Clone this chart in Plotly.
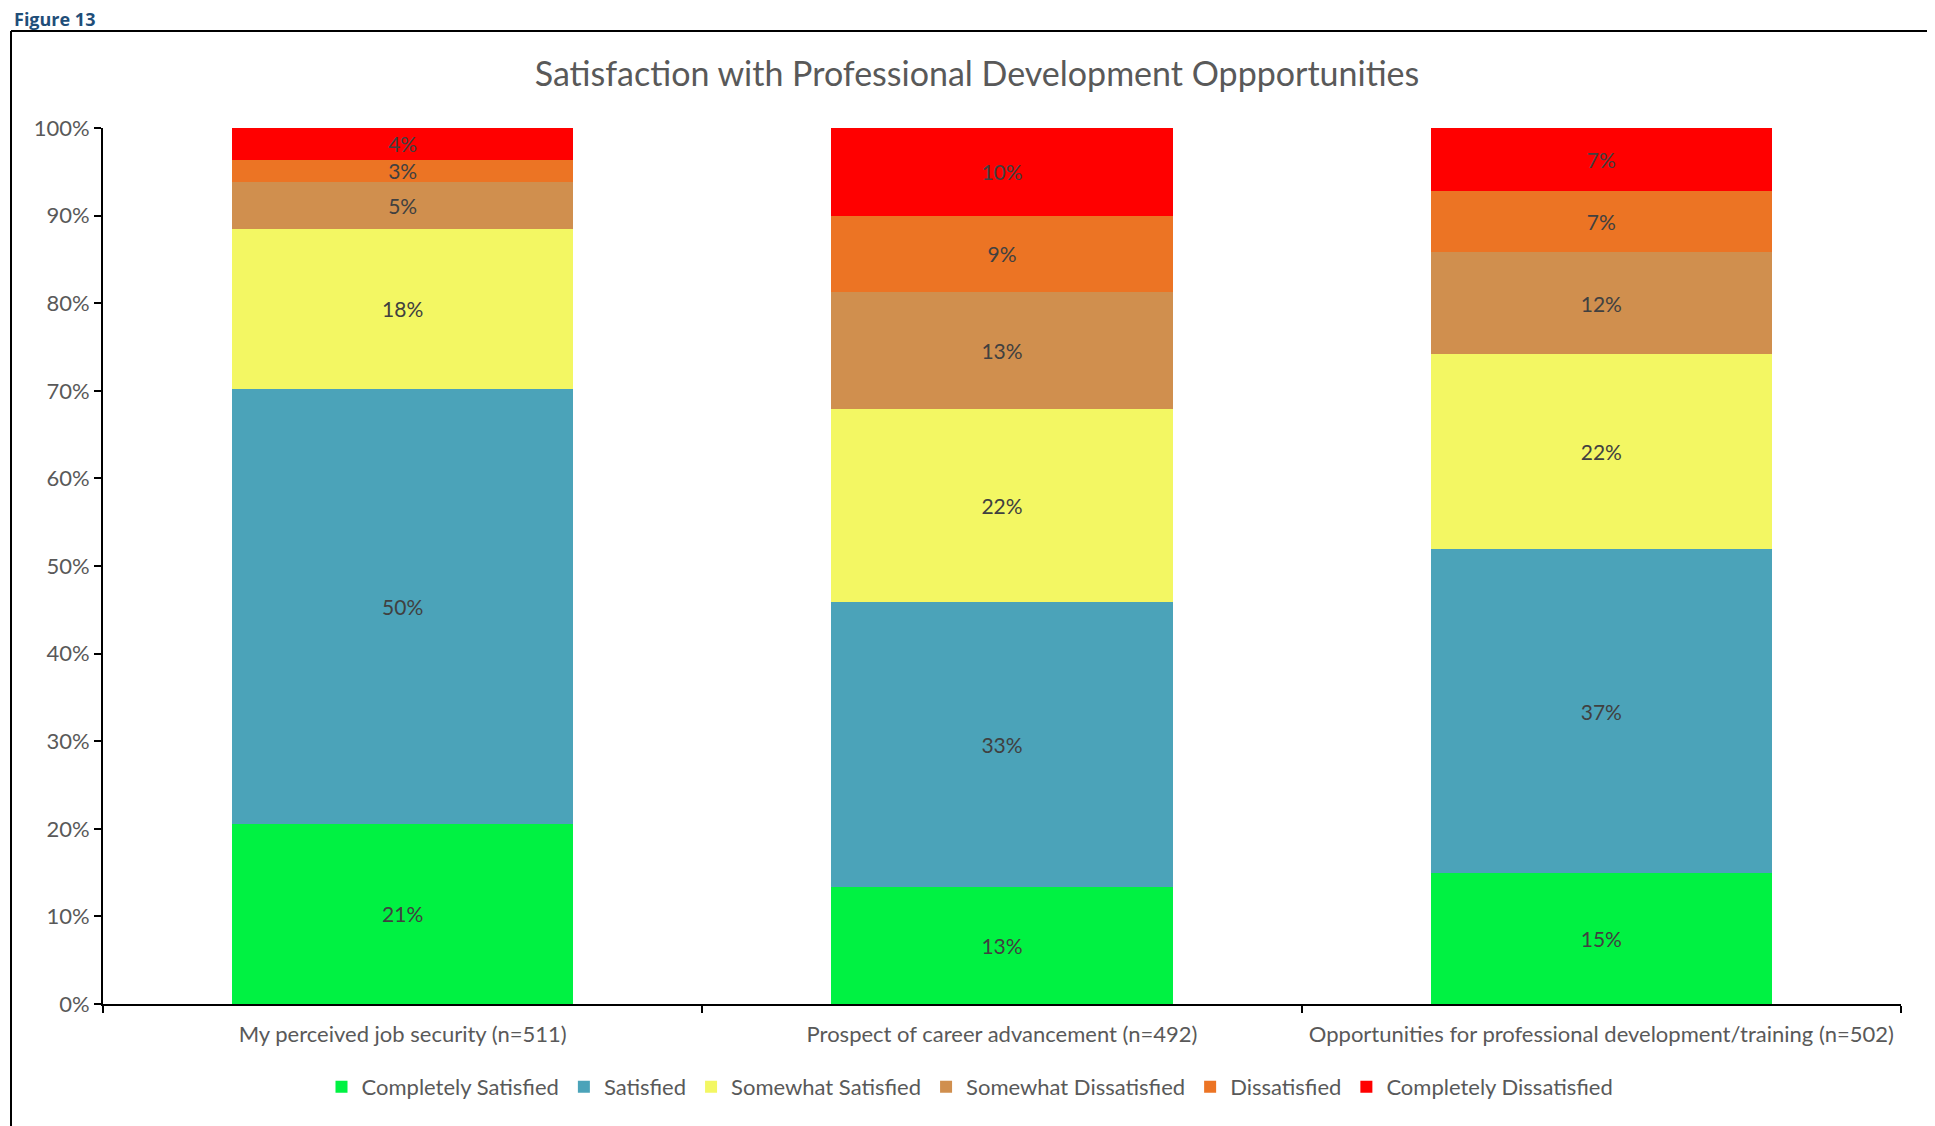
import plotly.graph_objects as go

categories = ["My perceived job security (n=511)",
              "Prospect of career advancement (n=492)",
              "Opportunities for professional development/training (n=502)"]
series_names = ["Completely Satisfied", "Satisfied", "Somewhat Satisfied",
                "Somewhat Dissatisfied", "Dissatisfied", "Completely Dissatisfied"]
completely_satisfied = [20.6, 13.3, 14.9]
satisfied = [49.6, 32.6, 37.0]
somewhat_satisfied = [18.3, 22.0, 22.3]
somewhat_dissatisfied = [5.3, 13.4, 11.6]
dissatisfied = [2.6, 8.7, 7.0]
completely_dissatisfied = [3.6, 10.0, 7.2]
colors = ["#00F242", "#4BA3B9", "#F3F763", "#D08F4E", "#EC7424", "#FF0000"]
y_ticks = list(range(0, 101, 10))
y_tick_labels = [f"{v}%" for v in y_ticks]

values = [completely_satisfied, satisfied, somewhat_satisfied,
          somewhat_dissatisfied, dissatisfied, completely_dissatisfied]

FONT = "Lato, 'Open Sans', sans-serif"
W, H = 1935, 1126
ML, MR, MT, MB = 95, 42, 120, 130
PW = W - ML - MR
PH = H - MT - MB

def px_x(x):
    return (x - ML) / PW

def px_y(y):
    return (H - MB - y) / PH

fig = go.Figure()
for name, vals, col in zip(series_names, values, colors):
    fig.add_trace(go.Bar(
        name=name, x=categories, y=vals,
        marker=dict(color=col, line=dict(width=0)),
        text=vals, texttemplate="%{y:.0f}%", textposition="inside",
        insidetextanchor="middle", textangle=0,
        textfont=dict(family=FONT, size=21, color="#404040"),
    ))

fig.update_layout(
    width=W, height=H,
    barmode="stack", bargap=0.43,
    paper_bgcolor="white", plot_bgcolor="white",
    margin=dict(l=ML, r=MR, t=MT, b=MB, autoexpand=False),
    font=dict(family=FONT, size=22, color="#595959"),
    uniformtext=dict(minsize=21, mode="show"),
    title=dict(text="Satisfaction with Professional Development Oppportunities",
               x=969 / W, xanchor="center", y=1 - 66 / H, yanchor="middle",
               font=dict(family=FONT, size=34, color="#595959")),
    legend=dict(orientation="h", x=px_x(962), xanchor="center",
                y=px_y(1079), yanchor="middle",
                font=dict(family=FONT, size=22, color="#595959"),
                traceorder="normal", itemwidth=30),
    showlegend=True,
)
fig.update_yaxes(range=[0, 100], tickvals=y_ticks, ticktext=y_tick_labels,
                 showgrid=False, zeroline=False, showline=True,
                 linecolor="black", linewidth=2, ticks="outside",
                 tickcolor="black", tickwidth=2, ticklen=7,
                 tickfont=dict(family=FONT, size=22, color="#595959"))
fig.update_xaxes(showgrid=False, showline=True, linecolor="black", linewidth=2,
                 ticks="outside", tickson="boundaries", tickcolor="black",
                 tickwidth=2, ticklen=7, ticklabelstandoff=10,
                 tickfont=dict(family=FONT, size=22, color="#595959"))

# frame around the chart
fx0, fx1 = px_x(3), px_x(1921)
fy_top, fy_bot = px_y(23), px_y(1140)
for (x0, y0, x1, y1) in [(fx0, fy_bot, fx0, fy_top), (fx0, fy_top, fx1, fy_top),
                         (fx1, fy_top, fx1, fy_bot)]:
    fig.add_shape(type="line", xref="paper", yref="paper", x0=x0, y0=y0,
                  x1=x1, y1=y1, line=dict(color="black", width=2))

fig.add_annotation(text="<b>Figure 13</b>", xref="paper", yref="paper",
                   x=px_x(4), y=px_y(10.5), xanchor="left", yanchor="middle",
                   showarrow=False,
                   font=dict(family="'Open Sans', sans-serif", size=18, color="#1F4E79"))

fig.write_html("out.html")
